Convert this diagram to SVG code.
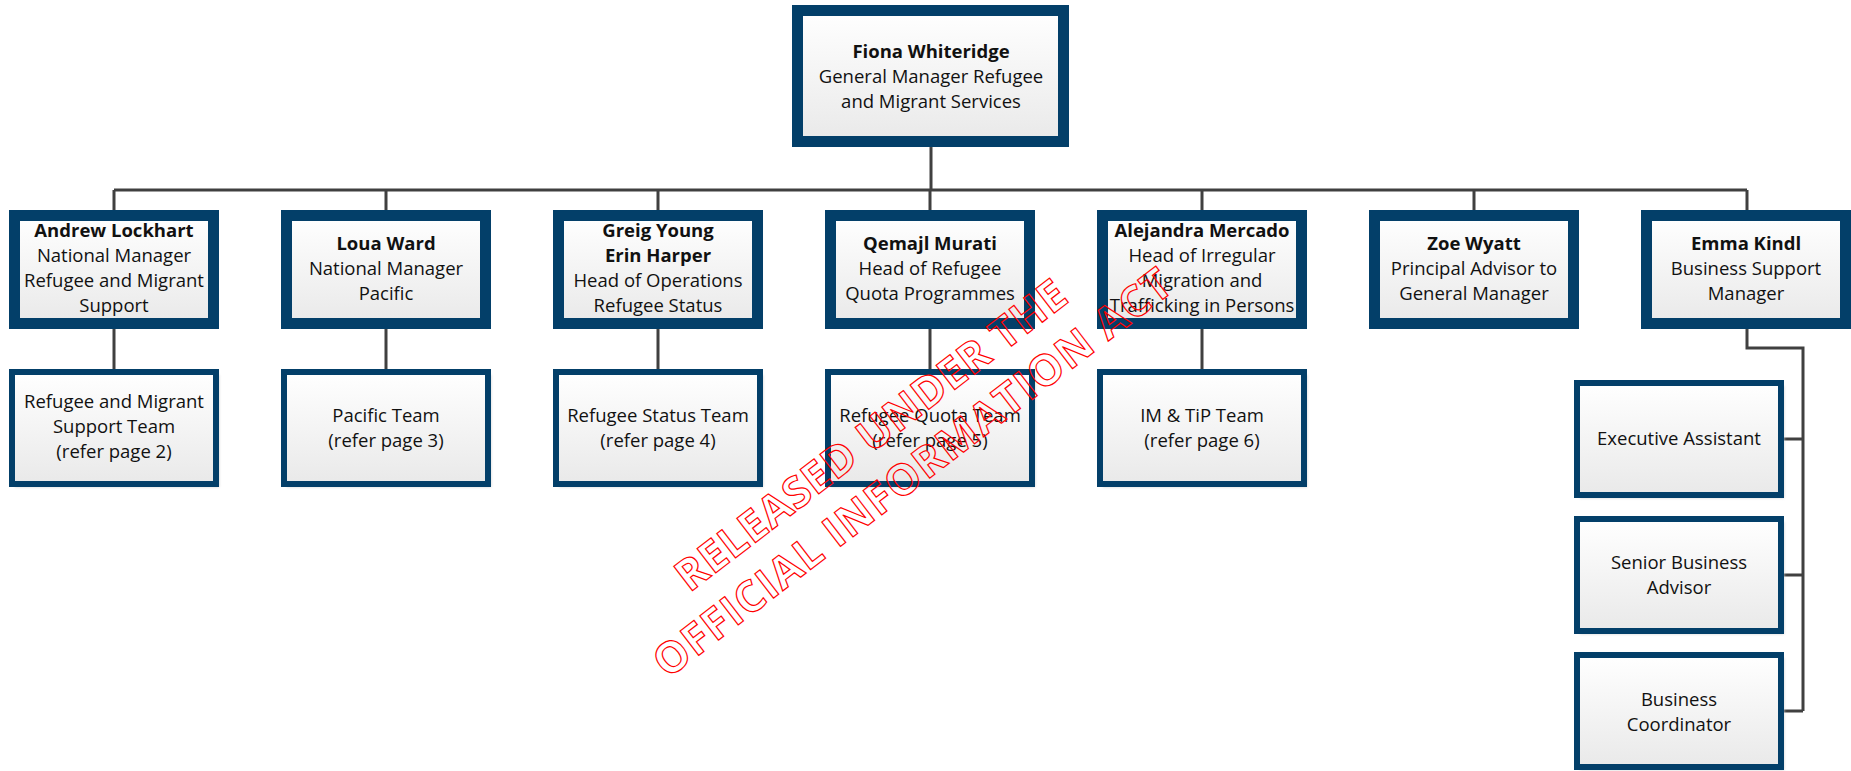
<svg xmlns="http://www.w3.org/2000/svg" width="1851" height="771" viewBox="0 0 1851 771">
<style>
.bx{fill:url(#g);stroke:#033f69;}
.b2{stroke-width:11;}
.b3{stroke-width:6;}
.sh{fill:#cfcfcf;filter:url(#bl);}
.t{font-family:"Open Sans","Liberation Sans",sans-serif;font-size:18.5px;fill:#111;text-anchor:middle;}
.n{font-weight:bold;}
.c{fill:none;stroke:#404040;stroke-width:3;}
.wm{font-family:"Open Sans","Liberation Sans",sans-serif;font-size:43px;font-weight:bold;fill:none;stroke:#ff0000;stroke-width:1.2;text-anchor:middle;}
</style>
<defs>
<linearGradient id="g" x1="0" y1="0" x2="0" y2="1">
<stop offset="0" stop-color="#ffffff"/>
<stop offset="1" stop-color="#e9e9e9"/>
</linearGradient>
<filter id="bl" x="-10%" y="-10%" width="120%" height="120%"><feGaussianBlur stdDeviation="1.5"/></filter>
</defs>
<rect width="1851" height="771" fill="#ffffff"/>

<g id="connectors">
<path class="c" d="M931 147 V190 M114 190 H1747 M114 190 V212 M386 190 V212 M658 190 V212 M930 190 V212 M1202 190 V212 M1474 190 V212 M1747 190 V212"/>
<path class="c" d="M114 327 V371 M386 327 V371 M658 327 V371 M930 327 V371 M1202 327 V371"/>
<path class="c" d="M1747 327 V348 H1803 V711 M1803 439 H1782 M1803 575 H1782 M1803 711 H1782"/>
</g>

<g id="gm">
<rect class="sh" x="801" y="14" width="266" height="131"/>
<rect class="bx b2" x="797.5" y="10.5" width="266" height="131"/>
<text class="t n" x="931" y="58">Fiona Whiteridge</text>
<text class="t" x="931" y="83">General Manager Refugee</text>
<text class="t" x="931" y="108">and Migrant Services</text>
</g>

<g id="andrew">
<rect class="sh" x="18" y="219" width="199" height="108"/>
<rect class="bx b2" x="14.5" y="215.5" width="199" height="108"/>
<text class="t n" x="114" y="237">Andrew Lockhart</text>
<text class="t" x="114" y="262">National Manager</text>
<text class="t" x="114" y="287">Refugee and Migrant</text>
<text class="t" x="114" y="312">Support</text>
</g>
<g id="loua">
<rect class="sh" x="290" y="219" width="199" height="108"/>
<rect class="bx b2" x="286.5" y="215.5" width="199" height="108"/>
<text class="t n" x="386" y="250">Loua Ward</text>
<text class="t" x="386" y="275">National Manager</text>
<text class="t" x="386" y="300">Pacific</text>
</g>
<g id="greig">
<rect class="sh" x="562" y="219" width="199" height="108"/>
<rect class="bx b2" x="558.5" y="215.5" width="199" height="108"/>
<text class="t n" x="658" y="237">Greig Young</text>
<text class="t n" x="658" y="262">Erin Harper</text>
<text class="t" x="658" y="287">Head of Operations</text>
<text class="t" x="658" y="312">Refugee Status</text>
</g>
<g id="qemajl">
<rect class="sh" x="834" y="219" width="199" height="108"/>
<rect class="bx b2" x="830.5" y="215.5" width="199" height="108"/>
<text class="t n" x="930" y="250">Qemajl Murati</text>
<text class="t" x="930" y="275">Head of Refugee</text>
<text class="t" x="930" y="300">Quota Programmes</text>
</g>
<g id="alejandra">
<rect class="sh" x="1106" y="219" width="199" height="108"/>
<rect class="bx b2" x="1102.5" y="215.5" width="199" height="108"/>
<text class="t n" x="1202" y="237">Alejandra Mercado</text>
<text class="t" x="1202" y="262">Head of Irregular</text>
<text class="t" x="1202" y="287">Migration and</text>
<text class="t" x="1202" y="312">Trafficking in Persons</text>
</g>
<g id="zoe">
<rect class="sh" x="1378" y="219" width="199" height="108"/>
<rect class="bx b2" x="1374.5" y="215.5" width="199" height="108"/>
<text class="t n" x="1474" y="250">Zoe Wyatt</text>
<text class="t" x="1474" y="275">Principal Advisor to</text>
<text class="t" x="1474" y="300">General Manager</text>
</g>
<g id="emma">
<rect class="sh" x="1650" y="219" width="199" height="108"/>
<rect class="bx b2" x="1646.5" y="215.5" width="199" height="108"/>
<text class="t n" x="1746" y="250">Emma Kindl</text>
<text class="t" x="1746" y="275">Business Support</text>
<text class="t" x="1746" y="300">Manager</text>
</g>

<g id="rmsteam">
<rect class="sh" x="15" y="375" width="204" height="112"/>
<rect class="bx b3" x="12" y="372" width="204" height="112"/>
<text class="t" x="114" y="408">Refugee and Migrant</text>
<text class="t" x="114" y="433">Support Team</text>
<text class="t" x="114" y="458">(refer page 2)</text>
</g>
<g id="pacteam">
<rect class="sh" x="287" y="375" width="204" height="112"/>
<rect class="bx b3" x="284" y="372" width="204" height="112"/>
<text class="t" x="386" y="422">Pacific Team</text>
<text class="t" x="386" y="447">(refer page 3)</text>
</g>
<g id="rsteam">
<rect class="sh" x="559" y="375" width="204" height="112"/>
<rect class="bx b3" x="556" y="372" width="204" height="112"/>
<text class="t" x="658" y="422">Refugee Status Team</text>
<text class="t" x="658" y="447">(refer page 4)</text>
</g>
<g id="rqteam">
<rect class="sh" x="831" y="375" width="204" height="112"/>
<rect class="bx b3" x="828" y="372" width="204" height="112"/>
<text class="t" x="930" y="422">Refugee Quota Team</text>
<text class="t" x="930" y="447">(refer page 5)</text>
</g>
<g id="imteam">
<rect class="sh" x="1103" y="375" width="204" height="112"/>
<rect class="bx b3" x="1100" y="372" width="204" height="112"/>
<text class="t" x="1202" y="422">IM &amp; TiP Team</text>
<text class="t" x="1202" y="447">(refer page 6)</text>
</g>

<g id="ea">
<rect class="sh" x="1580" y="386" width="204" height="112"/>
<rect class="bx b3" x="1577" y="383" width="204" height="112"/>
<text class="t" x="1679" y="445">Executive Assistant</text>
</g>
<g id="sba">
<rect class="sh" x="1580" y="522" width="204" height="112"/>
<rect class="bx b3" x="1577" y="519" width="204" height="112"/>
<text class="t" x="1679" y="569">Senior Business</text>
<text class="t" x="1679" y="594">Advisor</text>
</g>
<g id="bc">
<rect class="sh" x="1580" y="658" width="204" height="112"/>
<rect class="bx b3" x="1577" y="655" width="204" height="112"/>
<text class="t" x="1679" y="706">Business</text>
<text class="t" x="1679" y="731">Coordinator</text>
</g>

<g id="watermark" transform="translate(880,447) rotate(-37.5)">
<text class="wm" x="0" y="0" textLength="480" lengthAdjust="spacing">RELEASED  UNDER THE</text>
<text class="wm" x="10" y="55" textLength="640" lengthAdjust="spacing">OFFICIAL INFORMATION ACT</text>
</g>
</svg>
